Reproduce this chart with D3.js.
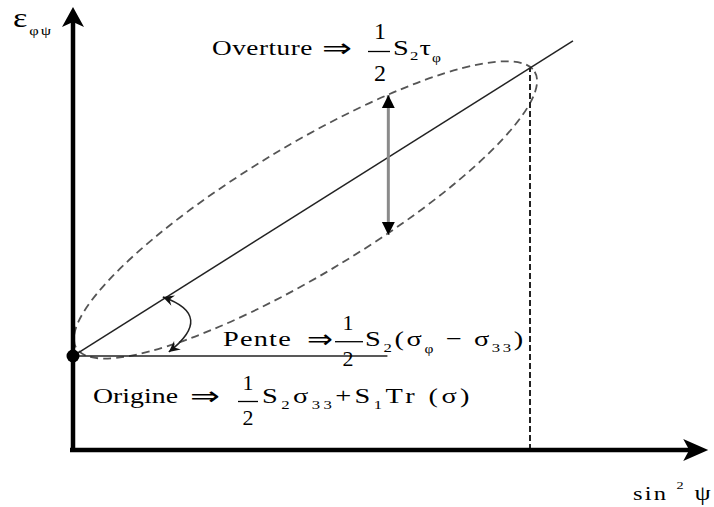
<!DOCTYPE html>
<html>
<head>
<meta charset="utf-8">
<script src="https://cdn.jsdelivr.net/npm/d3@7"></script>
<style>
  body { margin: 0; background: #fff; }
  text { font-family: "Liberation Serif", "Times New Roman", serif; fill: #000; white-space: pre; }
</style>
</head>
<body>
<svg id="canvas" width="714" height="507"></svg>
<script>
// values: sin²ψ along x, ε along y (tilt point = 1, 1)
const axisEnds = [1.39, 1.16]                         // arrow tips of x and y axes
const fitLine = [[0, 0.246], [1.094, 1.071]]
const slopeBase = [[0, 0.246], [0.688, 0.246]]
const tiltLine = [[1, 0], [1, 1]]
const opening = [[0.690, 0.563], [0.690, 0.929]]
const slopeArc = [[0.1965, 0.4005], [0.312, 0.352], [0.2096, 0.2565]]
const ellipseAxis = [[0.0072, 0.267], [1.0103, 0.990]]
const ellipseHalfWidth = 0.168

let canvas = d3.select('#canvas')

let x = d3.scaleLinear().domain([0, 1]).range([73, 530])
let y = d3.scaleLinear().domain([0, 1]).range([450, 68])

let defs = canvas.append('defs')
defs.append('marker')
    .attr('id', 'head')
    .attr('viewBox', '0 0 10 10')
    .attr('refX', 10).attr('refY', 5)
    .attr('markerUnits', 'userSpaceOnUse')
    .attr('markerWidth', 13).attr('markerHeight', 14)
    .attr('orient', 'auto-start-reverse')
    .append('path').attr('d', 'M0,0 L10,5 L0,10 Z').attr('fill', '#000')
defs.append('marker')
    .attr('id', 'barb')
    .attr('viewBox', '0 0 10 10')
    .attr('refX', 10).attr('refY', 5)
    .attr('markerUnits', 'userSpaceOnUse')
    .attr('markerWidth', 13).attr('markerHeight', 11)
    .attr('orient', 'auto-start-reverse')
    .append('path').attr('d', 'M0,0 L10,5 L0,10 L3.5,5 Z').attr('fill', '#111')

// dashed ellipse
let e0 = [x(ellipseAxis[0][0]), y(ellipseAxis[0][1])]
let e1 = [x(ellipseAxis[1][0]), y(ellipseAxis[1][1])]
let ecx = (e0[0] + e1[0]) / 2, ecy = (e0[1] + e1[1]) / 2
let erx = Math.hypot(e1[0] - e0[0], e1[1] - e0[1]) / 2
let ery = y(0) - y(ellipseHalfWidth)
let eang = Math.atan2(e1[1] - e0[1], e1[0] - e0[0]) * 180 / Math.PI
canvas.append('ellipse')
    .attr('cx', ecx).attr('cy', ecy)
    .attr('rx', erx).attr('ry', ery)
    .attr('transform', 'rotate(' + eang + ',' + ecx + ',' + ecy + ')')
    .attr('fill', 'none')
    .attr('stroke', '#555')
    .attr('stroke-width', 1.8)
    .attr('stroke-dasharray', '8 5')

let line = d3.line().x(d => x(d[0])).y(d => y(d[1]))

// vertical dashed line at the tilt point
canvas.append('path')
    .attr('d', line(tiltLine))
    .attr('fill', 'none')
    .attr('stroke', '#222')
    .attr('stroke-width', 2)
    .attr('stroke-dasharray', '6 3')

// fitted line and horizontal reference
canvas.append('path').attr('d', line(fitLine))
    .attr('fill', 'none').attr('stroke', '#222').attr('stroke-width', 1.5)
canvas.append('path').attr('d', line(slopeBase))
    .attr('fill', 'none').attr('stroke', '#222').attr('stroke-width', 1.5)

// opening double arrow
canvas.append('path').attr('d', line(opening))
    .attr('stroke', '#8a8a8a').attr('stroke-width', 3)
    .attr('marker-start', 'url(#head)').attr('marker-end', 'url(#head)')

// slope arc
let arc = d3.path()
arc.moveTo(x(slopeArc[0][0]), y(slopeArc[0][1]))
arc.quadraticCurveTo(x(slopeArc[1][0]), y(slopeArc[1][1]), x(slopeArc[2][0]), y(slopeArc[2][1]))
canvas.append('path').attr('d', arc.toString())
    .attr('fill', 'none').attr('stroke', '#222').attr('stroke-width', 1.5)
    .attr('marker-start', 'url(#barb)').attr('marker-end', 'url(#barb)')

// axes
let ox = x(0), oy = y(0)
let xt = x(axisEnds[0]), yt = y(axisEnds[1])
canvas.append('line').attr('x1', ox - 3).attr('y1', oy).attr('x2', xt - 12).attr('y2', oy)
    .attr('stroke', '#000').attr('stroke-width', 4.5)
canvas.append('line').attr('x1', ox).attr('y1', oy + 2).attr('x2', ox).attr('y2', yt + 12)
    .attr('stroke', '#000').attr('stroke-width', 4.5)
canvas.append('path')
    .attr('d', `M${xt},${oy} L${xt - 25},${oy - 11} L${xt - 19},${oy} L${xt - 25},${oy + 11} Z`)
canvas.append('path')
    .attr('d', `M${ox},${yt} L${ox - 11},${yt + 20} L${ox},${yt + 15} L${ox + 11},${yt + 20} Z`)

// origin dot
canvas.append('circle').attr('cx', x(fitLine[0][0])).attr('cy', y(fitLine[0][1])).attr('r', 6.5)

// text helpers: stretch the glyphs, spread the letters a bit if still short
function expr(x0, x1, base, size, parts, family) {
    let g = canvas.append('g')
    let t = g.append('text').attr('font-size', size)
    if (family) t.style('font-family', family)
    let shift = 0, n = 0
    parts.forEach(p => {
        let s = p[1] || 0
        t.append('tspan').attr('dy', s - shift).attr('font-size', p[2] || size).text(p[0])
        shift = s
        n += p[0].length
    })
    let target = x1 - x0
    let w = t.node().getBBox().width
    let sx = Math.min(target / w, 1.3)
    if (n > 1 && target / sx > w) {
        t.attr('letter-spacing', (target / sx - w) / (n - 0.5))
        w = t.node().getBBox().width
    }
    sx = target / w
    g.attr('transform', 'translate(' + x0 + ',' + base + ') scale(' + sx + ',1)')
}

function frac(cx, x0, x1, barY, numBase, denBase, size) {
    canvas.append('line').attr('x1', x0).attr('x2', x1).attr('y1', barY).attr('y2', barY)
        .attr('stroke', '#000').attr('stroke-width', 1.3)
    canvas.append('text').attr('x', cx).attr('y', numBase).attr('font-size', size)
        .attr('text-anchor', 'middle').text('1')
    canvas.append('text').attr('x', cx).attr('y', denBase).attr('font-size', size)
        .attr('text-anchor', 'middle').text('2')
}

let arrowFont = '"DejaVu Sans", sans-serif'

// axis labels
expr(13, 53, 27, 27, [['ε'], ['φψ', 8, 13]])
expr(633, 713, 500, 19, [['sin '], ['2', -11, 11], [' ψ', 0, 20]])

// Overture
expr(212, 313, 55, 21, [['Overture']])
expr(322, 352, 57, 26, [['⇒']], arrowFont)
frac(380, 368, 390, 51.5, 39, 81, 24)
expr(393, 442, 55, 22, [['S'], ['2', 5, 13], ['τ', 0], ['φ', 7, 12]])

// Pente
expr(223, 292, 346, 22, [['Pente']])
expr(307, 333, 348, 26, [['⇒']], arrowFont)
frac(348, 335, 363, 341.7, 330, 366, 22)
expr(365, 526, 346, 22, [['S'], ['2', 6, 13], ['(σ', 0], ['φ', 7, 12], [' − σ', 0], ['33', 6, 13], [')', 0]])

// Origine
expr(93, 178, 403, 22, [['Origine']])
expr(190, 220, 405, 26, [['⇒']], arrowFont)
frac(248, 238, 258, 401.5, 390, 425, 22)
expr(262, 473, 403, 22, [['S'], ['2', 6, 13], ['σ', 0], ['33', 6, 13], ['+S', 0], ['1', 6, 13], ['Tr (σ)', 0]])
</script>
</body>
</html>
